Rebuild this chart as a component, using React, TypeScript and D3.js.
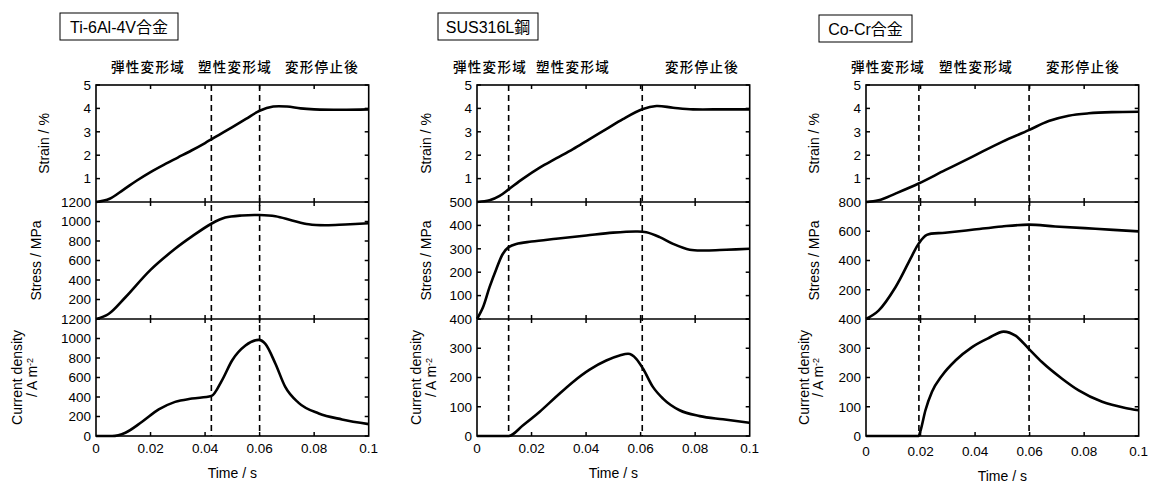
import React from "react";
import * as d3 from "d3";

type Pt = [number, number];

const regionLabels = ["弾性変形域", "塑性変形域", "変形停止後"];
const xTickValues = [0, 0.02, 0.04, 0.06, 0.08, 0.1];
const xTickLabels = ["0", "0.02", "0.04", "0.06", "0.08", "0.1"];

// Ti-6Al-4V
const tiStrain: Pt[] = [
  [0, 0], [0.005, 0.14], [0.01, 0.52], [0.015, 0.92], [0.02, 1.28], [0.025, 1.6],
  [0.03, 1.9], [0.035, 2.2], [0.04, 2.52], [0.045, 2.86], [0.05, 3.2],
  [0.055, 3.55], [0.06, 3.9], [0.065, 4.08], [0.07, 4.08], [0.075, 4.0], [0.08, 3.96],
  [0.09, 3.94], [0.1, 3.96],
];
const tiStress: Pt[] = [
  [0, 0], [0.0046, 51], [0.0108, 223], [0.02, 504], [0.029, 720], [0.0352, 847],
  [0.0423, 977], [0.0474, 1040], [0.0535, 1062], [0.06, 1066], [0.0658, 1053],
  [0.0719, 1011], [0.078, 972], [0.0841, 962], [0.0914, 970], [0.1, 982],
];
const tiCurrent: Pt[] = [
  [0, 0], [0.0059, 0], [0.0108, 34], [0.0169, 146], [0.023, 272], [0.029, 350],
  [0.0352, 384], [0.0423, 410], [0.0462, 571], [0.0499, 775], [0.0548, 928],
  [0.0597, 986], [0.0621, 945], [0.0658, 741], [0.0694, 503], [0.0743, 340],
  [0.0817, 231], [0.0902, 170], [0.1, 122],
];
const tiMarkers = [0.0423, 0.06];

// SUS316L
const susStrain: Pt[] = [
  [0, 0], [0.0046, 0.07], [0.0083, 0.26], [0.0116, 0.54], [0.0169, 1.0], [0.023, 1.47],
  [0.029, 1.86], [0.0352, 2.26], [0.0413, 2.69], [0.0474, 3.11], [0.0535, 3.54],
  [0.0606, 3.96], [0.0658, 4.1], [0.0719, 4.03], [0.0792, 3.96], [0.0902, 3.96], [0.1, 3.96],
];
const susStress: Pt[] = [
  [0, 0], [0.0022, 50], [0.0046, 136], [0.0071, 214], [0.0095, 279], [0.0116, 307],
  [0.0144, 321], [0.02, 331], [0.029, 343], [0.0401, 357], [0.0499, 369], [0.0584, 374],
  [0.0621, 371], [0.067, 350], [0.0719, 321], [0.078, 296], [0.0841, 293], [0.0914, 296],
  [0.1, 300],
];
const susCurrent: Pt[] = [
  [0, 0], [0.0116, 0], [0.0169, 37], [0.023, 83], [0.029, 134], [0.0352, 185],
  [0.0413, 227], [0.0474, 258], [0.0523, 275], [0.0554, 281], [0.0584, 264],
  [0.0609, 230], [0.0645, 168], [0.0682, 128], [0.0743, 88], [0.0817, 68],
  [0.0902, 57], [0.1, 45],
];
const susMarkers = [0.0116, 0.0606];

// Co-Cr
const coStrain: Pt[] = [
  [0, 0], [0.0046, 0.07], [0.0108, 0.36], [0.0193, 0.79], [0.029, 1.36], [0.0389, 1.93],
  [0.0499, 2.57], [0.0597, 3.07], [0.067, 3.46], [0.0743, 3.69], [0.0817, 3.79],
  [0.0902, 3.84], [0.1, 3.86],
];
const coStress: Pt[] = [
  [0, 0], [0.0046, 57], [0.0108, 217], [0.0169, 434], [0.0193, 514], [0.0223, 575],
  [0.029, 590], [0.0389, 610], [0.0499, 633], [0.0597, 645], [0.0694, 633],
  [0.0841, 617], [0.1, 599],
];
const coCurrent: Pt[] = [
  [0, 0], [0.0193, 0], [0.0199, 15], [0.0218, 88], [0.0242, 151], [0.0279, 207],
  [0.0328, 258], [0.0389, 304], [0.045, 335], [0.0505, 357], [0.0548, 343],
  [0.0597, 298], [0.0645, 253], [0.0719, 196], [0.078, 156], [0.0866, 117],
  [0.0951, 96], [0.1, 88],
];
const coMarkers = [0.0194, 0.0598];

const font = "'Liberation Sans', Arial, 'Noto Sans CJK JP', sans-serif";
const cjk = "'Noto Sans CJK JP', sans-serif";

const panels = [
  {
    title: "Ti-6Al-4V合金", x0: 96, box: [60, 13, 118, 27],
    strain: tiStrain, stress: tiStress, current: tiCurrent, markers: tiMarkers,
    stressMax: 1200, stressStep: 200, currentMax: 1200, currentStep: 200,
    regionX: [148, 235, 322], labelOff: [52, 60, 79, 64], xLabDy: 0,
  },
  {
    title: "SUS316L鋼", x0: 477, box: [438, 13, 100, 27],
    strain: susStrain, stress: susStress, current: susCurrent, markers: susMarkers,
    stressMax: 500, stressStep: 100, currentMax: 400, currentStep: 100,
    regionX: [490, 573, 702], labelOff: [51, 51, 61, 46], xLabDy: 0,
  },
  {
    title: "Co-Cr合金", x0: 866, box: [819, 15, 93, 27],
    strain: coStrain, stress: coStress, current: coCurrent, markers: coMarkers,
    stressMax: 800, stressStep: 200, currentMax: 400, currentStep: 100,
    regionX: [888, 976, 1083], labelOff: [52, 52, 62, 48], xLabDy: 3,
  },
];

const top = 85;
const rowH = 117;
const plotW = 272.7;
const tickLen = 4;

function Panel({ p }: { p: (typeof panels)[number] }) {
  const x = d3.scaleLinear().domain([0, 0.1]).range([p.x0, p.x0 + plotW]);
  const rows = [
    { data: p.strain, max: 5, step: 1, showZero: false, label: ["Strain / %"] },
    { data: p.stress, max: p.stressMax, step: p.stressStep, showZero: false, label: ["Stress / MPa"] },
    { data: p.current, max: p.currentMax, step: p.currentStep, showZero: true, label: ["Current density", "/ A m"] },
  ];
  const bottom = top + rowH * 3;
  const x1 = p.x0 + plotW;
  return (
    <g>
      <rect x={p.box[0]} y={p.box[1]} width={p.box[2]} height={p.box[3]} fill="none" stroke="#000" strokeWidth={1} />
      <text x={p.box[0] + p.box[2] / 2} y={p.box[1] + p.box[3] / 2 + 6} textAnchor="middle" fontSize={16} fontFamily={font}>
        {p.title}
      </text>
      {regionLabels.map((r, i) => (
        <text key={r} x={p.regionX[i]} y={72} textAnchor="middle" fontSize={13.5} letterSpacing={1.3} fontWeight={500} fontFamily={cjk}>
          {r}
        </text>
      ))}
      {rows.map((r, ri) => {
        const y0 = top + ri * rowH;
        const y = d3.scaleLinear().domain([0, r.max]).range([y0 + rowH, y0]);
        const ticks = d3.range(0, r.max + r.step / 2, r.step);
        const line = d3
          .line<Pt>()
          .x((d) => x(d[0]))
          .y((d) => y(d[1]))
          .curve(ri === 2 ? d3.curveMonotoneX : d3.curveCatmullRom.alpha(0.5));
        const lx = ri === 2 ? [p.x0 - p.labelOff[2], p.x0 - p.labelOff[3]] : [p.x0 - p.labelOff[ri]];
        const cy = y0 + rowH / 2;
        return (
          <g key={ri}>
            {ticks.map((t) => (
              <g key={t}>
                <line x1={p.x0} x2={p.x0 + tickLen} y1={y(t)} y2={y(t)} stroke="#000" strokeWidth={1.5} />
                <line x1={x1} x2={x1 - tickLen} y1={y(t)} y2={y(t)} stroke="#000" strokeWidth={1.5} />
                {(t > 0 || r.showZero) && (
                  <text x={p.x0 - 5} y={y(t)} dy="0.36em" textAnchor="end" fontSize={13.5} fontFamily={font}>
                    {t}
                  </text>
                )}
              </g>
            ))}
            {xTickValues.slice(1, -1).map((t) => (
              <g key={"x" + t}>
                <line x1={x(t)} x2={x(t)} y1={y0} y2={y0 + tickLen} stroke="#000" strokeWidth={1.5} />
                <line x1={x(t)} x2={x(t)} y1={y0 + rowH} y2={y0 + rowH - tickLen} stroke="#000" strokeWidth={1.5} />
              </g>
            ))}
            <path d={line(r.data) || ""} fill="none" stroke="#000" strokeWidth={2.6} strokeLinejoin="round" />
            {r.label.map((s, li) => (
              <text
                key={s}
                transform={`translate(${lx[li]},${cy}) rotate(-90)`}
                dy="0.36em"
                textAnchor="middle"
                fontSize={14}
                fontFamily={font}
              >
                {s}
                {ri === 2 && li === 1 && (
                  <tspan fontSize={9} dy="-0.45em">-2</tspan>
                )}
              </text>
            ))}
          </g>
        );
      })}
      {p.markers.map((m) => (
        <line key={m} x1={x(m)} x2={x(m)} y1={top} y2={bottom} stroke="#000" strokeWidth={1.6} strokeDasharray="6,4" />
      ))}
      <rect x={p.x0} y={top} width={plotW} height={rowH * 3} fill="none" stroke="#000" strokeWidth={1.6} />
      <line x1={p.x0} x2={x1} y1={top + rowH} y2={top + rowH} stroke="#000" strokeWidth={1.6} />
      <line x1={p.x0} x2={x1} y1={top + 2 * rowH} y2={top + 2 * rowH} stroke="#000" strokeWidth={1.6} />
      {xTickValues.map((t, i) => (
        <text key={t} x={x(t)} y={453 + p.xLabDy} textAnchor="middle" fontSize={13.5} fontFamily={font}>
          {xTickLabels[i]}
        </text>
      ))}
      <text x={x(0.05)} y={478 + p.xLabDy} textAnchor="middle" fontSize={14} fontFamily={font}>
        Time / s
      </text>
    </g>
  );
}

export default function App() {
  return (
    <svg
      width={1150}
      height={484}
      style={{ position: "absolute", left: 0, top: 0, background: "#fff" }}
    >
      {panels.map((p) => (
        <Panel key={p.title} p={p} />
      ))}
    </svg>
  );
}
